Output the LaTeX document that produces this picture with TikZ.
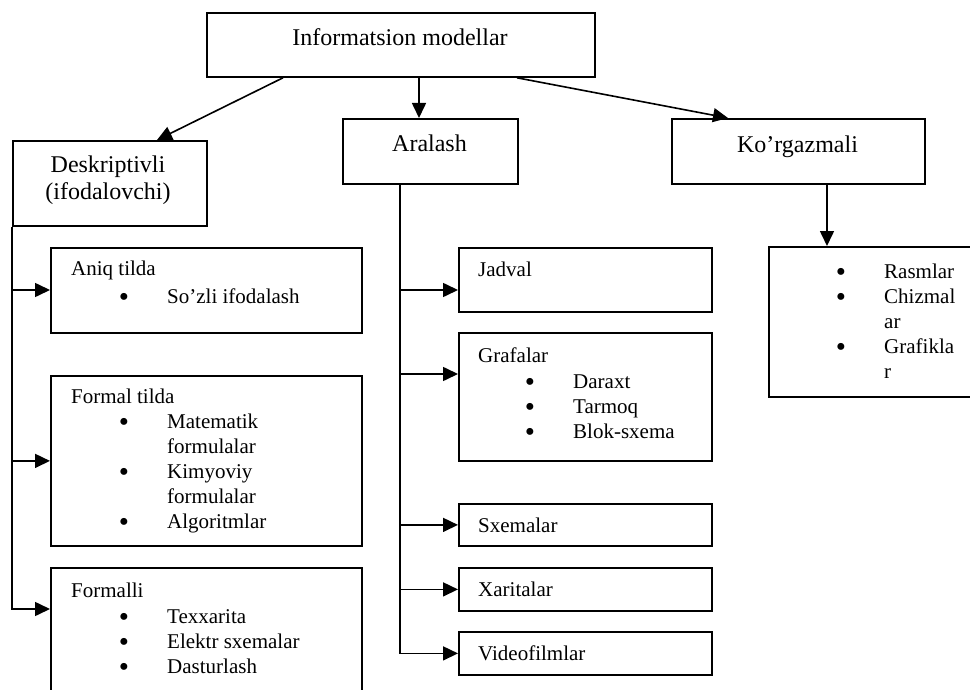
\documentclass[tikz,border=0pt]{standalone}
\usepackage{fontspec}
\setmainfont{Liberation Serif}
\usetikzlibrary{arrows.meta,calc}

% bullet item and its continuation line
\newcommand{\bul}[1]{\strut\makebox[47pt][l]{\hspace{-1.4pt}\smash{\raisebox{-3.2pt}{\fontsize{29}{25}\selectfont\textbullet}}}#1}
\newcommand{\cnt}[1]{\strut\hspace*{47pt}#1}

\tikzset{
  box/.style={draw,line width=1.8pt,inner sep=0pt,anchor=north west},
  arr/.style={line width=1.6pt,-{Triangle[length=15pt,width=14pt]}},
  head/.style={font=\fontsize{24}{29}\selectfont,inner sep=0pt,anchor=base},
  txt/.style={font=\fontsize{21}{25}\selectfont,inner sep=0pt,anchor=base west},
  lst/.style={font=\fontsize{21}{25}\selectfont,inner sep=0pt,anchor=north west,align=left},
}

\begin{document}
\begin{tikzpicture}[x=1pt,y=-1pt]
  \clip (0,0) rectangle (970,690);
  % top levels
  \node[box,minimum width=388,minimum height=64] (info) at (206,12) {};
  \node[box,minimum width=194,minimum height=85] (desk) at (12,140) {};
  \node[box,minimum width=175,minimum height=65] (arl) at (342,118) {};
  \node[box,minimum width=253,minimum height=65] (korg) at (671,118) {};
  \node[head] (infoT) at (400,46) {Informatsion modellar};
  \node[head] (deskT) at (108,173) {Deskriptivli};
  \node[head] (deskT2) at (108,200) {(ifodalovchi)};
  \node[head] (arlT) at (429.5,152) {Aralash};
  \node[head] (korgT) at (797.5,153) {Ko’rgazmali};
  % left column
  \node[box,minimum width=311,minimum height=85] (aniq) at (50,247) {};
  \node[box,minimum width=311,minimum height=170] (formal) at (50,375) {};
  \node[box,minimum width=311,minimum height=133] (fli) at (50,567) {};
  \node[txt] (aniqT) at (71,275) {Aniq tilda};
  \node[lst] (aniqL) at (120,285.5) {\bul{So’zli ifodalash}};
  \node[txt] (formalT) at (71,403) {Formal tilda};
  \node[lst] (formalL) at (120,410.5) {\bul{Matematik}\\\cnt{formulalar}\\\bul{Kimyoviy}\\\cnt{formulalar}\\\bul{Algoritmlar}};
  \node[txt] (fliT) at (71,597) {Formalli};
  \node[lst] (fliL) at (120,605.5) {\bul{Texxarita}\\\bul{Elektr sxemalar}\\\bul{Dasturlash}};
  % middle column
  \node[box,minimum width=253,minimum height=64] (jad) at (458,247) {};
  \node[box,minimum width=253,minimum height=128] (graf) at (458,332) {};
  \node[box,minimum width=253,minimum height=42] (sxe) at (458,503) {};
  \node[box,minimum width=253,minimum height=43] (xar) at (458,567) {};
  \node[box,minimum width=253,minimum height=43] (vid) at (458,631) {};
  \node[txt] (jadT) at (478,276) {Jadval};
  \node[txt] (grafT) at (478,362) {Grafalar};
  \node[lst] (grafL) at (526,370.5) {\bul{Daraxt}\\\bul{Tarmoq}\\\bul{Blok-sxema}};
  \node[txt] (sxeT) at (478,532) {Sxemalar};
  \node[txt] (xarT) at (478,596) {Xaritalar};
  \node[txt] (vidT) at (478,660) {Videofilmlar};
  % right column
  \node[box,minimum width=207,minimum height=150] (ksub) at (768,246) {};
  \node[lst] (ksubL) at (837,260.5) {\bul{Rasmlar}\\\bul{Chizmal}\\\cnt{ar}\\\bul{Grafikla}\\\cnt{r}};
  % arrows from the top box
  \draw[arr] ($(info.south west)+(77,0)$) -- ($(desk.north west)+(145,0)$);
  \draw[arr] ($(info.south west)+(213,0)$) -- ($(arl.north west)+(77,0)$);
  \draw[arr] ($(info.south west)+(311,0)$) -- ($(korg.north west)+(57,0)$);
  \draw[arr] ($(korg.south west)+(156,0)$) -- ($(ksub.north west)+(59,0)$);
  % trunks
  \coordinate (dtr) at (desk.south west);
  \coordinate (atr) at ($(arl.south west)+(58,0)$);
  \draw[arr] (dtr) |- ($(aniq.north west)+(0,43)$);
  \draw[arr] (dtr) |- (formal.west);
  \draw[arr] (dtr) |- ($(fli.north west)+(0,42)$);
  \draw[arr] (atr) |- ($(jad.north west)+(0,43)$);
  \draw[arr] (atr) |- ($(graf.north west)+(0,42)$);
  \draw[arr] (atr) |- (sxe.west);
  \draw[arr] (atr) |- (xar.west);
  \draw[arr] (atr) |- (vid.west);
\end{tikzpicture}
\end{document}
